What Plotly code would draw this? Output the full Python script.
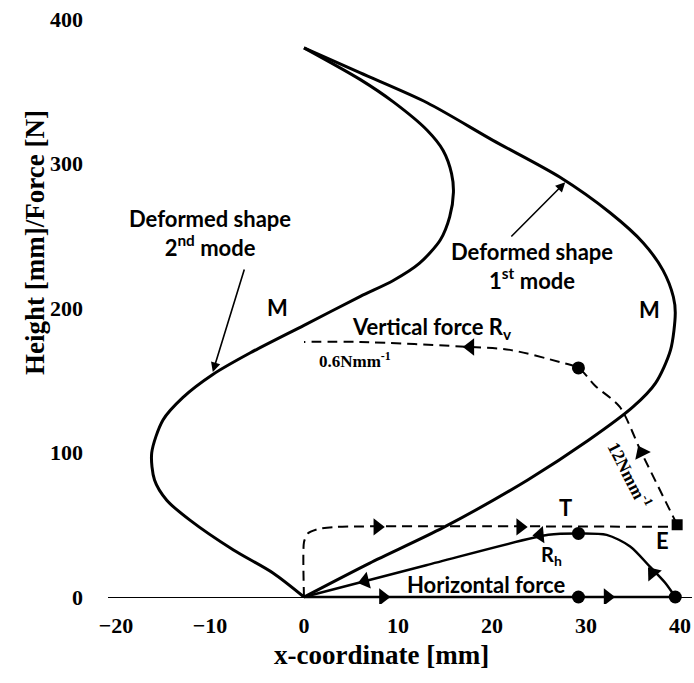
import plotly.graph_objects as go

# ---- deformed shapes (x-coordinate [mm], height [mm]) ----
mode1_x = [0, 6.0, 13.1, 20.1, 27.2, 32.6, 36.1, 38.2, 39.3, 39.5, 39.0, 37.4, 35.0, 30.3, 23.8, 14.8, 7.0, 0]
mode1_y = [380, 362.6, 342, 316, 290.6, 265.7, 245, 226, 207.6, 196.5, 171, 148, 131.5, 108.6, 81, 48, 23.5, 0]

mode2_x = [0, 6.0, 9.5, 13.1, 14.8, 15.7, 15.9, 15.5, 14.5, 12.3, 9.5, 6.0, 0, -5.7, -9.7, -12.9, -15.0, -16.2, -15.9, -14.6, -12.1, -7.5, -3.3, 0]
mode2_y = [380, 358, 342.6, 323, 309, 293, 280, 263, 247, 231, 219, 208, 188, 169, 154, 138, 122.5, 99.7, 81, 67, 53, 32.5, 16.6, 0]

# ---- force paths ----
vert_x = [39.7, 35.9, 33.6, 31.0, 29.2, 27.2, 21.9, 17.7, 6.0, 0]
vert_y = [50, 100, 131.5, 146, 158.5, 162.6, 171, 173, 176.5, 176.5]

top_x = [0, 0, 0.4, 1.5, 3.5, 39.7]
top_y = [0, 38, 44, 47, 48.5, 48.5]

base_x = [0, 39.5]
base_y = [0, 0]

rh_x = [39.5, 38.4, 36.8, 34.7, 32.2, 29.2, 26.0, 13.0, 0]
rh_y = [0, 10, 21, 35, 43, 44, 43, 22, 0]

# ---- point markers ----
dot_x = [29.2, 29.2, 29.2, 39.5]
dot_y = [158.5, 44, 0, 0]
end_x = [39.7]
end_y = [50]

# ---- direction arrows (position, symbol, rotation) ----
arrow_x = [7.8, 23.0, 8.4, 32.3, 35.9, 17.7, 37.1, 25.1, 6.5]
arrow_y = [48.5, 48.5, 0, 0, 100, 173, 16.6, 43, 11]
arrow_sym = ["triangle-right", "triangle-right", "triangle-right", "triangle-right",
             "triangle-up", "triangle-left", "triangle-up", "triangle-left", "triangle-left"]
arrow_ang = [0, 0, 0, 0, -26, 0, -39, -5, -14]

x_ticks = [-20, -10, 0, 10, 20, 30, 40]
y_ticks = [0, 100, 200, 300, 400]

fig = go.Figure()

solid = dict(color="black", width=3)
dashed = dict(color="black", width=2, dash="10px,6px")

fig.add_trace(go.Scatter(x=mode1_x, y=mode1_y, mode="lines",
                         line=dict(shape="spline", smoothing=0.8, **solid)))
fig.add_trace(go.Scatter(x=mode2_x, y=mode2_y, mode="lines",
                         line=dict(shape="spline", smoothing=0.8, **solid)))
fig.add_trace(go.Scatter(x=vert_x, y=vert_y, mode="lines",
                         line=dict(shape="spline", smoothing=0.8, **dashed)))
fig.add_trace(go.Scatter(x=top_x, y=top_y, mode="lines",
                         line=dict(shape="spline", smoothing=0.6, **dashed)))
fig.add_trace(go.Scatter(x=base_x, y=base_y, mode="lines",
                         line=dict(color="black", width=2.5)))
fig.add_trace(go.Scatter(x=rh_x, y=rh_y, mode="lines",
                         line=dict(shape="spline", smoothing=0.8, color="black", width=2.5)))
fig.add_trace(go.Scatter(x=dot_x, y=dot_y, mode="markers",
                         marker=dict(symbol="circle", size=13, color="black")))
fig.add_trace(go.Scatter(x=end_x, y=end_y, mode="markers",
                         marker=dict(symbol="square", size=11, color="black")))
fig.add_trace(go.Scatter(x=arrow_x, y=arrow_y, mode="markers",
                         marker=dict(symbol=arrow_sym, angle=arrow_ang, size=15, color="black")))

label_font = dict(family="Lato", size=22, color="black", weight="bold")
serif = "Liberation Serif"

notes = [
    dict(x=-10.0, y=252, text="Deformed shape<br>2<sup>nd</sup> mode", size=22),
    dict(x=24.3, y=229, text="Deformed shape<br>1<sup>st</sup> mode", size=22),
    dict(x=-2.8, y=200, text="M", size=22),
    dict(x=36.8, y=198.6, text="M", size=22),
    dict(x=13.6, y=186, text="Vertical force R<sub>v</sub>", size=22),
    dict(x=27.8, y=61.6, text="T", size=22),
    dict(x=38.1, y=39.4, text="E", size=22),
    dict(x=26.3, y=29, text="R<sub>h</sub>", size=20),
    dict(x=19.4, y=9.0, text="Horizontal force", size=22),
]
for n in notes:
    fig.add_annotation(x=n["x"], y=n["y"], text=n["text"], showarrow=False,
                       font=dict(label_font, size=n["size"]),
                       xanchor="center", yanchor="middle")

fig.add_annotation(x=5.4, y=164, text="0.6Nmm<sup>-1</sup>", showarrow=False,
                   font=dict(family=serif, size=17, color="black", weight="bold"))
fig.add_annotation(x=34.7, y=84.4, text="12Nmm<sup>-1</sup>", showarrow=False, textangle=63,
                   font=dict(family=serif, size=18, color="black", weight="bold"))

# pointer arrows to the deformed shapes
fig.add_annotation(x=-9.7, y=155.7, ax=-6.3, ay=227.7, axref="x", ayref="y",
                   text="", showarrow=True, arrowhead=2, arrowsize=1.2, arrowwidth=1.6,
                   arrowcolor="black")
fig.add_annotation(x=27.8, y=287, ax=21.9, ay=248.4, axref="x", ayref="y",
                   text="", showarrow=True, arrowhead=2, arrowsize=1.2, arrowwidth=1.6,
                   arrowcolor="black")

# axis titles (placed in paper coordinates, outside the plotting area)
fig.add_annotation(xref="paper", yref="paper", x=0.4675, y=-0.086,
                   xanchor="center", yanchor="middle",
                   text="<b>x-coordinate [mm]</b>", showarrow=False,
                   font=dict(family=serif, size=27, color="black"))
fig.add_annotation(xref="paper", yref="paper", x=-0.125, y=0.61,
                   xanchor="center", yanchor="middle",
                   text="<b>Height [mm]/Force [N]</b>", showarrow=False, textangle=-90,
                   font=dict(family=serif, size=27, color="black"))

fig.update_layout(
    width=694, height=683,
    margin=dict(l=108, r=2, t=12, b=79),
    paper_bgcolor="white", plot_bgcolor="white",
    showlegend=False,
    xaxis=dict(range=[-20.85, 41.28], tickvals=x_ticks, showgrid=False, zeroline=False,
               showline=False, ticks="", ticklabelstandoff=6,
               tickfont=dict(family=serif, size=22, color="black", weight="bold")),
    yaxis=dict(range=[-4.84, 404.8], tickvals=y_ticks, showgrid=False, zeroline=True,
               zerolinecolor="black", zerolinewidth=1, showline=False, ticks="",
               ticklabelstandoff=24,
               tickfont=dict(family=serif, size=22, color="black", weight="bold")),
)

fig.write_html("out.html")
